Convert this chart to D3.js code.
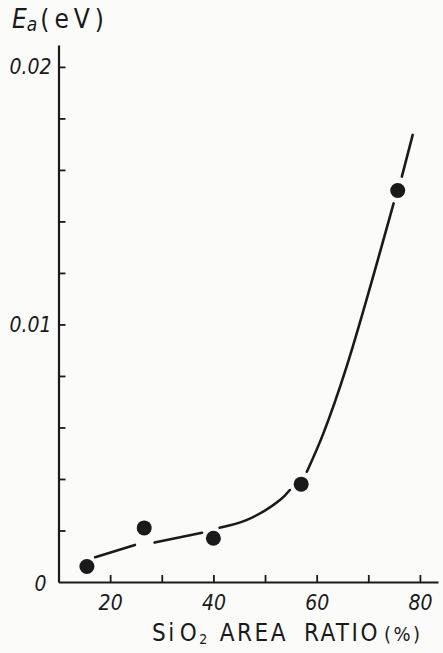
<!DOCTYPE html>
<html>
<head>
<meta charset="utf-8">
<script src="https://cdn.jsdelivr.net/npm/d3@7"></script>
<style>
  html, body { margin: 0; padding: 0; background: #fbfbfa; }
  svg { display: block; }
  .hand { font-family: "DejaVu Sans Condensed", "DejaVu Sans", sans-serif; font-stretch: condensed; fill: #1a1a1a; }
</style>
</head>
<body>
<svg id="chart"></svg>
<script>
// measured points: SiO2 area ratio (%) vs activation energy Ea (eV)
const ratio = [15.5, 26.6, 40, 57, 75.7];
const energy = [0.0006, 0.0021, 0.0017, 0.0038, 0.0152];

// hand drawn fit curve, broken into pieces like the original drawing
const curvePieces = [
  [[17.1, 0.00096], [24.8, 0.00144]],
  [[28.6, 0.00153], [37.8, 0.00191]],
  [[41.2, 0.00211], [46.5, 0.00241], [52.9, 0.00318], [54.8, 0.00357]],
  [[58.1, 0.00428], [61.3, 0.00577], [65.8, 0.00836], [74.9, 0.0147]],
  [[76.5, 0.01574], [78.6, 0.01736]]
];

const xTicks = [20, 30, 40, 50, 60, 70, 80];
const xLabels = [20, 40, 60, 80];
const yTicks = [0.002, 0.004, 0.006, 0.008, 0.01, 0.012, 0.014, 0.016, 0.018, 0.02];
const yLabels = [0.01, 0.02];

const width = 443;
const height = 653;
const ink = '#1a1a1a';

const svg = d3.select('#chart')
  .attr('width', width)
  .attr('height', height);

const x = d3.scaleLinear().domain([10, 83.5]).range([58.5, 438]);
const y = d3.scaleLinear().domain([0, 0.02085]).range([582, 45]);

// x axis, ticks pointing up
const xAxis = d3.axisBottom(x)
  .tickValues(xTicks)
  .tickSizeInner(-7)
  .tickSizeOuter(0)
  .tickPadding(13)
  .tickFormat(d => (xLabels.includes(d) ? d : ''));

const gx = svg.append('g')
  .attr('transform', `translate(0,${y(0)})`)
  .call(xAxis);

// y axis, ticks pointing right
const yAxis = d3.axisLeft(y)
  .tickValues(yTicks)
  .tickSizeInner(-7)
  .tickSizeOuter(0)
  .tickPadding(7)
  .tickFormat(d => (yLabels.includes(d) ? d3.format('.2f')(d) : ''));

const gy = svg.append('g')
  .attr('transform', `translate(${x(10)},0)`)
  .call(yAxis);

[gx, gy].forEach(g => {
  g.select('.domain').attr('stroke', ink).attr('stroke-width', 2.2);
  g.selectAll('.tick line').attr('stroke', ink).attr('stroke-width', 1.8);
  g.selectAll('.tick text')
    .attr('class', 'hand')
    .attr('font-size', 21)
    .attr('font-style', 'italic')
    .attr('fill', ink);
});

// origin label sits below-left of the corner
svg.append('text')
  .attr('class', 'hand')
  .attr('x', x(10) - 18)
  .attr('y', y(0) + 9)
  .attr('text-anchor', 'middle')
  .attr('font-size', 21)
  .attr('font-style', 'italic')
  .text('0');

// fit curve
const line = d3.line()
  .x(d => x(d[0]))
  .y(d => y(d[1]))
  .curve(d3.curveCatmullRom);

svg.append('g')
  .selectAll('path')
  .data(curvePieces)
  .enter()
  .append('path')
  .attr('d', line)
  .attr('fill', 'none')
  .attr('stroke', ink)
  .attr('stroke-width', 2.6)
  .attr('stroke-linecap', 'round');

// data points
svg.append('g')
  .selectAll('circle')
  .data(ratio)
  .enter()
  .append('circle')
  .attr('cx', d => x(d))
  .attr('cy', (d, i) => y(energy[i]))
  .attr('r', 7.5)
  .attr('fill', ink);

// y title: Ea (eV)
const yTitle = svg.append('text')
  .attr('class', 'hand')
  .attr('x', 12)
  .attr('y', 28)
  .attr('font-size', 26);
yTitle.append('tspan').attr('font-style', 'italic').text('E');
yTitle.append('tspan').attr('font-size', 19).attr('font-style', 'italic').attr('dy', 3).text('a');
yTitle.append('tspan').attr('dy', -3).attr('dx', 3).attr('letter-spacing', 5).text('(eV)');

// x title: SiO2 AREA RATIO (%)
const xTitle = svg.append('text')
  .attr('class', 'hand')
  .attr('x', 152)
  .attr('y', 641)
  .attr('font-size', 24)
  .attr('letter-spacing', 2.5);
xTitle.append('tspan').text('Si');
xTitle.append('tspan').attr('dx', 3).text('O');
xTitle.append('tspan').attr('font-size', 14).attr('dy', 3).text('2');
xTitle.append('tspan').attr('dy', -3).attr('dx', 10).text('AREA');
xTitle.append('tspan').attr('dx', 16).text('RATIO');
xTitle.append('tspan').attr('font-size', 20).attr('dx', 4).text('(%)');
</script>
</body>
</html>
